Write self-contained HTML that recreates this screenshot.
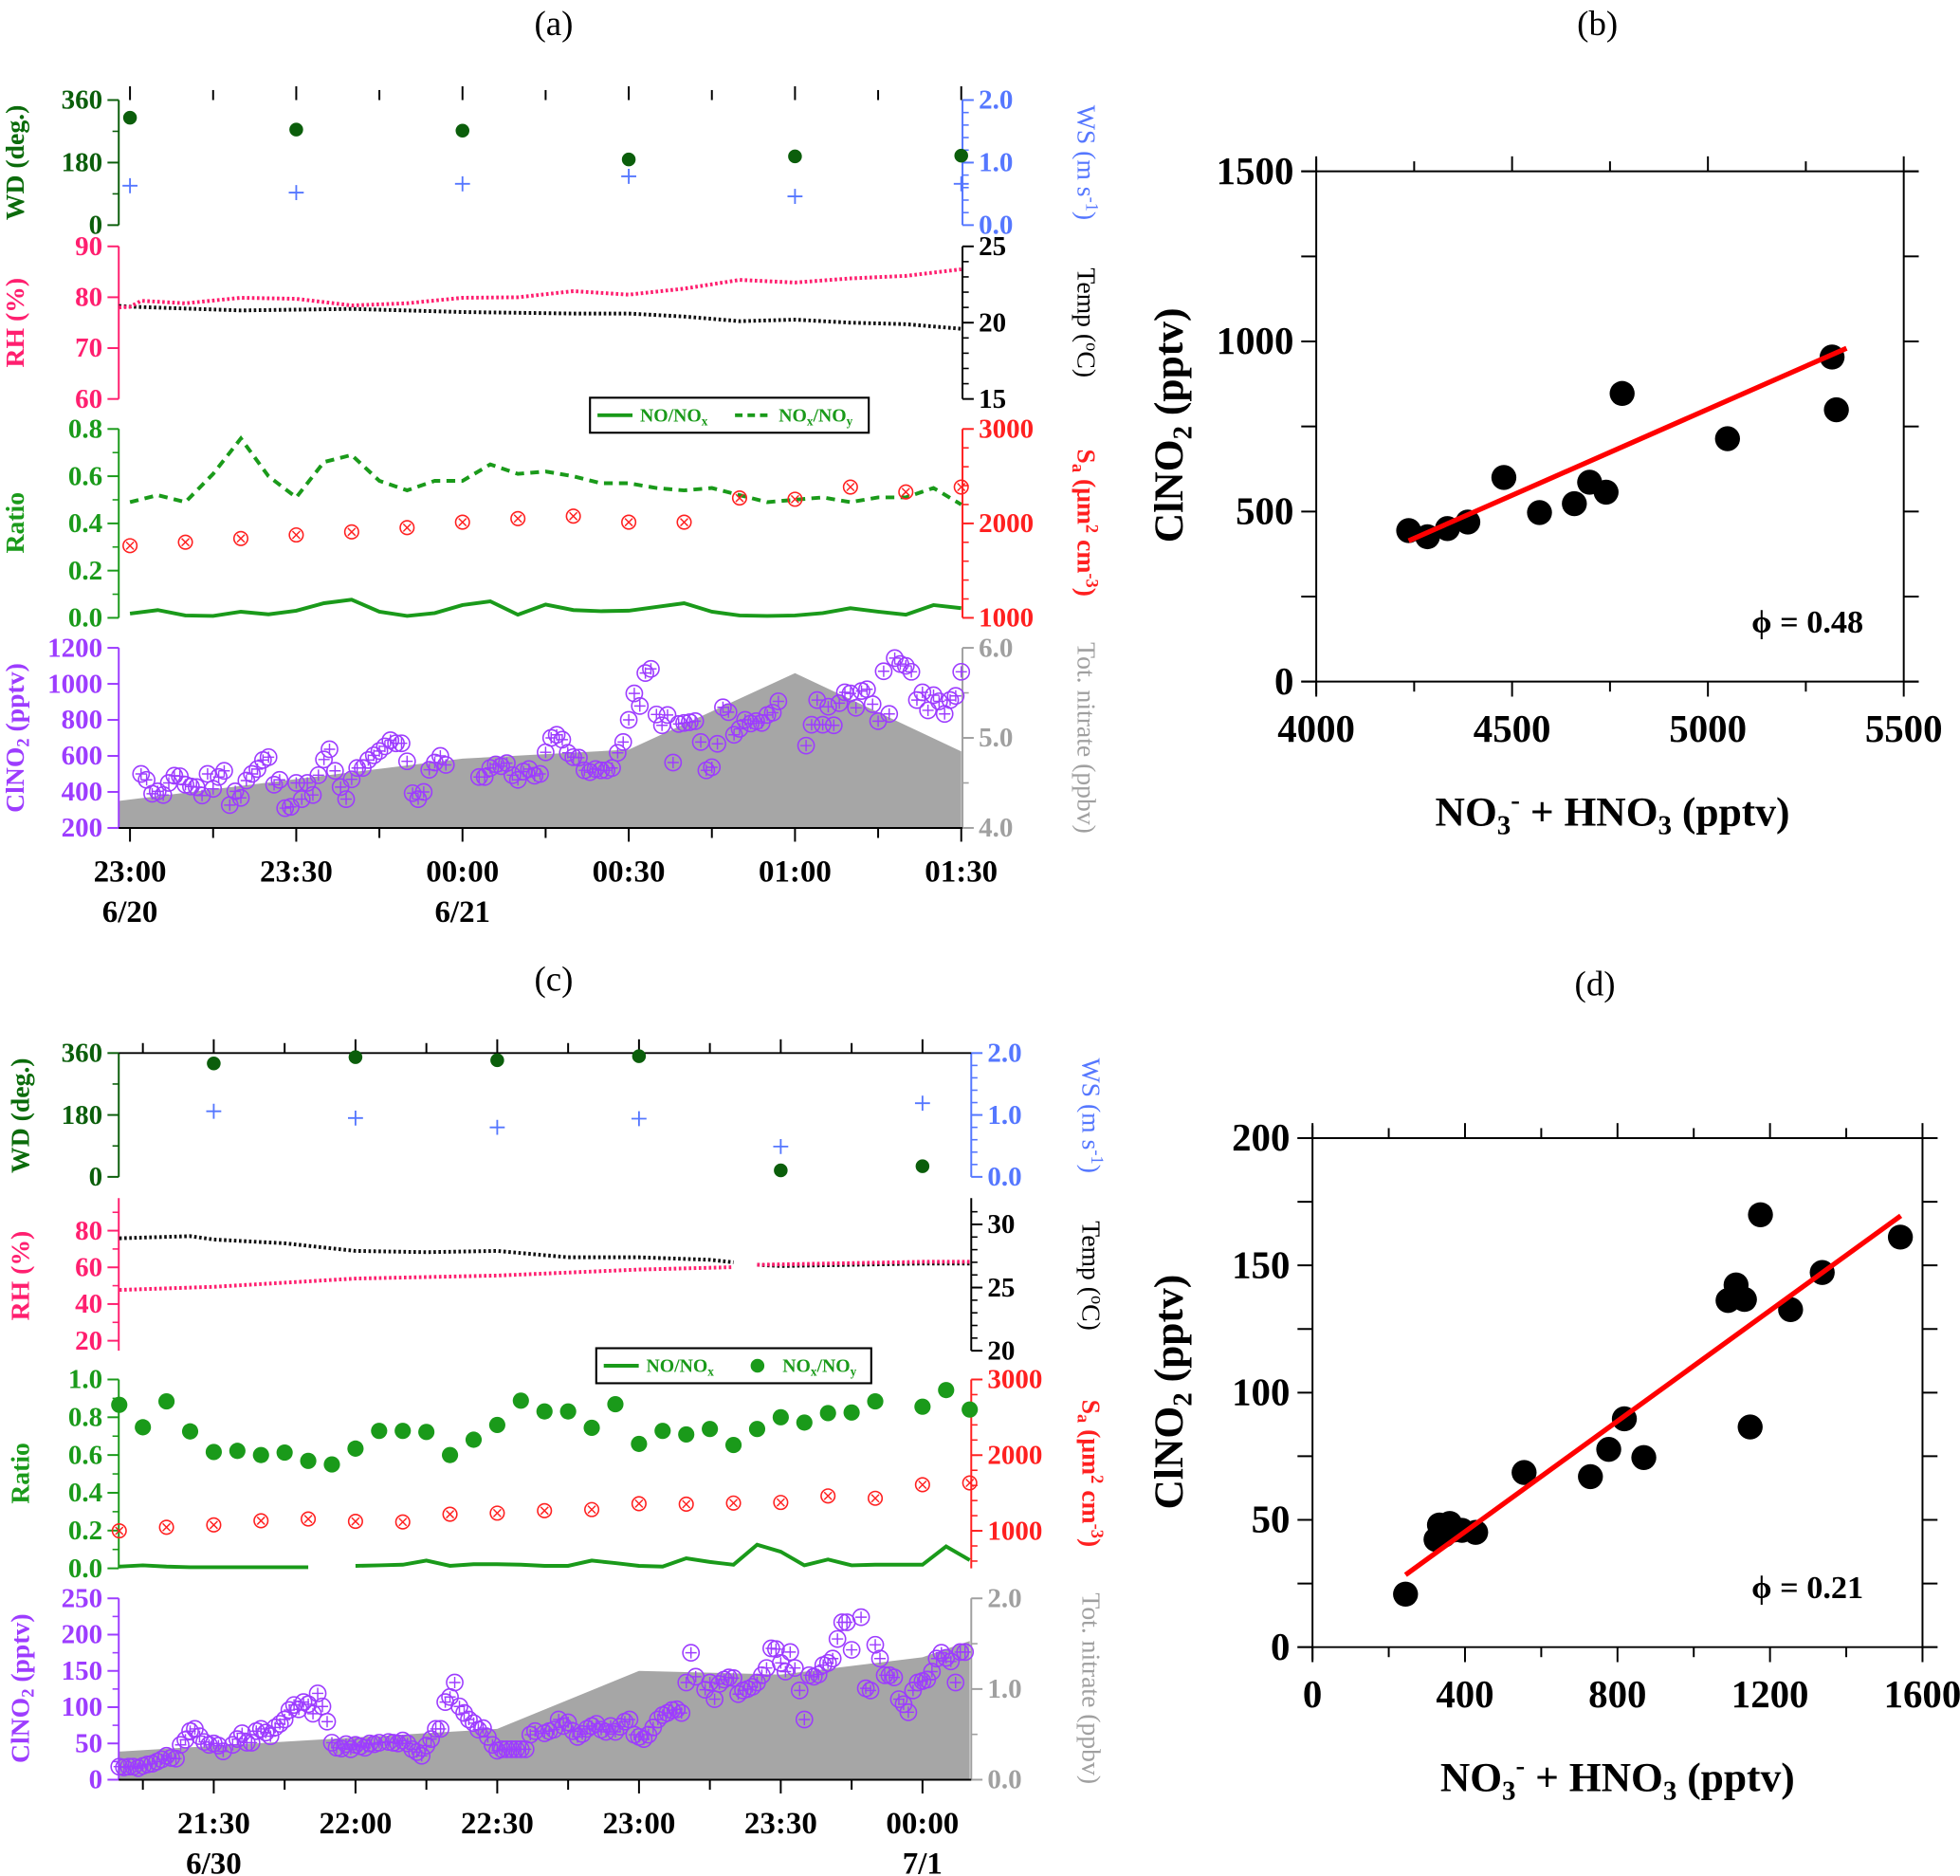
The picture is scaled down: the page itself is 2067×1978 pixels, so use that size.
<!DOCTYPE html>
<html><head><meta charset="utf-8"><style>
html,body{margin:0;padding:0;background:#fff;}
svg{display:block;font-family:"Liberation Serif",serif;}
</style></head><body>
<svg id="chart" xmlns="http://www.w3.org/2000/svg" width="2067" height="1978" viewBox="0 0 1568 1500" preserveAspectRatio="none">
<rect x="0" y="0" width="1568" height="1500" fill="#fff"/>
<g font-family="Liberation Serif, serif">
<text x="443" y="28" font-size="28" text-anchor="middle">(a)</text>
<text x="1278" y="28" font-size="28" text-anchor="middle">(b)</text>
<text x="443" y="792" font-size="28" text-anchor="middle">(c)</text>
<text x="1276" y="796" font-size="28" text-anchor="middle">(d)</text>

<text transform="translate(19,130) rotate(-90)" font-size="21" font-weight="bold" fill="#0b6b0b" text-anchor="middle">WD (deg.)</text>
<text transform="translate(19,258) rotate(-90)" font-size="21" font-weight="bold" fill="#ff1f6f" text-anchor="middle">RH (%)</text>
<text transform="translate(19,418) rotate(-90)" font-size="21" font-weight="bold" fill="#1a9a1a" text-anchor="middle">Ratio</text>
<text transform="translate(19,590) rotate(-90)" font-size="21" font-weight="bold" fill="#9d3cff" text-anchor="middle">ClNO<tspan font-size="14" dy="4">2</tspan><tspan dy="-4"> (pptv)</tspan></text>
<text transform="translate(862,130) rotate(90)" font-size="21" fill="#5577ff" text-anchor="middle">WS (m s<tspan font-size="14" dy="-7">-1</tspan><tspan dy="7">)</tspan></text>
<text transform="translate(862,258) rotate(90)" font-size="21" fill="#000" text-anchor="middle">Temp (<tspan font-size="14" dy="-7">o</tspan><tspan dy="7">C)</tspan></text>
<text transform="translate(862,418) rotate(90)" font-size="21" font-weight="bold" fill="#ff2020" text-anchor="middle">S<tspan font-size="14" dy="4">a</tspan><tspan dy="-4"> (μm</tspan><tspan font-size="14" dy="-7">2</tspan><tspan dy="7"> cm</tspan><tspan font-size="14" dy="-7">-3</tspan><tspan dy="7">)</tspan></text>
<text transform="translate(862,590) rotate(90)" font-size="21" fill="#a0a0a0" text-anchor="middle">Tot. nitrate (ppbv)</text>

<text transform="translate(23,892) rotate(-90)" font-size="21" font-weight="bold" fill="#0b6b0b" text-anchor="middle">WD (deg.)</text>
<text transform="translate(23,1020) rotate(-90)" font-size="21" font-weight="bold" fill="#ff1f6f" text-anchor="middle">RH (%)</text>
<text transform="translate(23,1178) rotate(-90)" font-size="21" font-weight="bold" fill="#1a9a1a" text-anchor="middle">Ratio</text>
<text transform="translate(23,1350) rotate(-90)" font-size="21" font-weight="bold" fill="#9d3cff" text-anchor="middle">ClNO<tspan font-size="14" dy="4">2</tspan><tspan dy="-4"> (pptv)</tspan></text>
<text transform="translate(866,892) rotate(90)" font-size="21" fill="#5577ff" text-anchor="middle">WS (m s<tspan font-size="14" dy="-7">-1</tspan><tspan dy="7">)</tspan></text>
<text transform="translate(866,1020) rotate(90)" font-size="21" fill="#000" text-anchor="middle">Temp (<tspan font-size="14" dy="-7">o</tspan><tspan dy="7">C)</tspan></text>
<text transform="translate(866,1178) rotate(90)" font-size="21" font-weight="bold" fill="#ff2020" text-anchor="middle">S<tspan font-size="14" dy="4">a</tspan><tspan dy="-4"> (μm</tspan><tspan font-size="14" dy="-7">2</tspan><tspan dy="7"> cm</tspan><tspan font-size="14" dy="-7">-3</tspan><tspan dy="7">)</tspan></text>
<text transform="translate(866,1350) rotate(90)" font-size="21" fill="#a0a0a0" text-anchor="middle">Tot. nitrate (ppbv)</text>

<text transform="translate(946,340) rotate(-90)" font-size="33" font-weight="bold" text-anchor="middle">ClNO<tspan font-size="22" dy="7">2</tspan><tspan dy="-7"> (pptv)</tspan></text>
<text x="1290" y="660" font-size="33" font-weight="bold" text-anchor="middle">NO<tspan font-size="22" dy="7">3</tspan><tspan font-size="22" dy="-20">-</tspan><tspan dy="13"> + HNO</tspan><tspan font-size="22" dy="7">3</tspan><tspan dy="-7"> (pptv)</tspan></text>
<text x="1446" y="506" font-size="26" font-weight="bold" text-anchor="middle">ϕ = 0.48</text>
<text transform="translate(946,1113) rotate(-90)" font-size="33" font-weight="bold" text-anchor="middle">ClNO<tspan font-size="22" dy="7">2</tspan><tspan dy="-7"> (pptv)</tspan></text>
<text x="1294" y="1432" font-size="33" font-weight="bold" text-anchor="middle">NO<tspan font-size="22" dy="7">3</tspan><tspan font-size="22" dy="-20">-</tspan><tspan dy="13"> + HNO</tspan><tspan font-size="22" dy="7">3</tspan><tspan dy="-7"> (pptv)</tspan></text>
<text x="1446" y="1278" font-size="26" font-weight="bold" text-anchor="middle">ϕ = 0.21</text>

<g>
<rect x="472" y="318" width="223" height="28" fill="#fff" stroke="#000" stroke-width="1.6"/>
<line x1="478" y1="332" x2="506" y2="332" stroke="#1a9a1a" stroke-width="3"/>
<text x="512" y="337" font-size="15" font-weight="bold" fill="#1a9a1a">NO/NO<tspan font-size="10" dy="3">x</tspan></text>
<line x1="588" y1="332" x2="618" y2="332" stroke="#1a9a1a" stroke-width="3" stroke-dasharray="6 4"/>
<text x="623" y="337" font-size="15" font-weight="bold" fill="#1a9a1a">NO<tspan font-size="10" dy="3">x</tspan><tspan dy="-3">/NO</tspan><tspan font-size="10" dy="3">y</tspan></text>
</g>
<g>
<rect x="477" y="1078" width="220" height="28" fill="#fff" stroke="#000" stroke-width="1.6"/>
<line x1="483" y1="1092" x2="511" y2="1092" stroke="#1a9a1a" stroke-width="3"/>
<text x="517" y="1097" font-size="15" font-weight="bold" fill="#1a9a1a">NO/NO<tspan font-size="10" dy="3">x</tspan></text>
<circle cx="606" cy="1092" r="5.5" fill="#1a9a1a"/>
<text x="626" y="1097" font-size="15" font-weight="bold" fill="#1a9a1a">NO<tspan font-size="10" dy="3">x</tspan><tspan dy="-3">/NO</tspan><tspan font-size="10" dy="3">y</tspan></text>
</g>
</g>
</svg>
<script>
// ===== Panel (a) data =====
const aWdTimes = [0, 30, 60, 90, 120, 150];
const aWdValues = [309, 275, 272, 189, 198, 200];
const aWsValues = [0.63, 0.52, 0.66, 0.78, 0.46, 0.66];
const aRhTimes = [-2, 0, 2, 10, 20, 30, 40, 50, 60, 70, 80, 90, 100, 110, 120, 130, 140, 150];
const aRhValues = [78, 78.1, 79.3, 78.8, 79.9, 79.7, 78.4, 78.8, 79.9, 80, 81.2, 80.5, 81.7, 83.4, 82.9, 83.7, 84.2, 85.5];
const aTempTimes = [-2, 0, 20, 40, 60, 80, 90, 100, 110, 120, 130, 140, 150];
const aTempValues = [21.1, 21.05, 20.8, 20.9, 20.7, 20.6, 20.6, 20.4, 20.1, 20.2, 20.0, 19.9, 19.6];
const aRatioTimes = [0,5,10,15,20,25,30,35,40,45,50,55,60,65,70,75,80,85,90,95,100,105,110,115,120,125,130,135,140,145,150];
const aNoNox = [0.018,0.033,0.01,0.008,0.026,0.015,0.03,0.062,0.077,0.026,0.008,0.02,0.054,0.07,0.013,0.056,0.033,0.028,0.03,0.046,0.062,0.026,0.01,0.008,0.01,0.02,0.041,0.026,0.013,0.054,0.041];
const aNoxNoy = [0.49,0.52,0.49,0.61,0.76,0.6,0.51,0.66,0.69,0.58,0.54,0.58,0.58,0.65,0.61,0.62,0.6,0.57,0.57,0.55,0.54,0.55,0.52,0.49,0.5,0.51,0.49,0.51,0.51,0.55,0.48];
const aSaTimes = [0,10,20,30,40,50,60,70,80,90,100,110,120,130,140,150];
const aSaValues = [1764,1801,1840,1878,1910,1955,2013,2051,2077,2013,2013,2269,2256,2385,2333,2385];
const aClTimes = [2,3,4,5,6,7,8,9,10,11,12,13,14,15,16,17,18,19,20,21,22,23,24,25,26,27,28,29,30,31,32,33,34,35,36,37,38,39,40,41,42,43,44,45,46,47,48,49,50,51,52,53,54,55,56,57,
63,64,65,66,67,68,69,70,71,72,73,74,75,76,77,78,79,80,81,82,83,84,85,86,87,88,89,90,91,92,93,94,95,96,97,98,99,100,101,102,103,104,105,106,107,108,109,110,111,112,113,114,115,116,117,
122,123,124,125,126,127,128,129,130,131,132,133,134,135,136,137,138,139,140,141,142,143,144,145,146,147,148,149,150];
const aClValues = [500,467,390,403,383,450,490,487,440,430,427,380,500,417,483,517,327,403,367,463,500,527,577,593,440,467,310,317,450,360,450,383,493,580,637,517,427,360,470,533,533,577,603,627,653,687,670,670,570,393,360,400,523,563,600,550,
483,483,533,553,543,560,493,467,513,527,490,500,620,700,717,690,617,593,590,520,510,527,520,520,533,617,677,800,947,877,1060,1083,830,770,827,563,777,783,787,793,677,520,537,667,870,843,717,750,800,780,793,783,827,840,903,
657,773,910,773,873,770,893,953,947,867,960,970,887,793,1070,833,1143,1110,1100,1067,910,953,853,937,903,833,910,933,1067];
const aNitTimes = [-2, 60, 90, 120, 150];
const aNitValues = [4.3, 4.77, 4.87, 5.72, 4.85];
const aTimeTicks = ['23:00','23:30','00:00','00:30','01:00','01:30'];
const aDateTicks = ['6/20','','6/21','','',''];

// ===== Panel (c) data (minutes since 21:00) =====
const cWdTimes = [30, 60, 90, 120, 150, 180];
const cWdValues = [330, 348, 339, 351, 19, 31];
const cWsValues = [1.06, 0.95, 0.80, 0.94, 0.49, 1.19];
const cTempTimes = [10,25,30,45,60,75,90,105,120,135,140,142,145,150,165,180,190];
const cTempValues = [28.9,29.07,28.8,28.5,27.9,27.8,27.9,27.4,27.4,27.2,27.0,null,26.8,26.7,26.8,26.9,26.9];
const cRhTimes = [10,30,60,90,120,140,142,145,180,190];
const cRhValues = [47.7,49.4,53.9,55.5,58.8,60.1,null,61.4,63,63];
const cRatioTimes = [10,15,20,25,30,35,40,45,50,55,60,65,70,75,80,85,90,95,100,105,110,115,120,125,130,135,140,145,150,155,160,165,170,175,180,185,190];
const cNoNox = [0.009,0.016,0.009,0.006,0.006,0.006,0.006,0.006,0.006,null,0.013,0.016,0.019,0.041,0.013,0.022,0.022,0.019,0.013,0.013,0.041,0.028,0.013,0.009,0.053,0.034,0.019,0.125,0.088,0.016,0.047,0.016,0.019,0.019,0.019,0.116,0.044];
const cNoxNoy = [0.866,0.747,0.884,0.725,0.616,0.622,0.6,0.613,0.569,0.55,0.634,0.728,0.728,0.722,0.6,0.681,0.759,0.888,0.831,0.831,0.744,0.869,0.659,0.728,0.709,0.738,0.653,0.738,0.8,0.772,0.822,0.825,0.884,null,0.856,0.944,0.841];
const cSaTimes = [10,20,30,40,50,60,70,80,90,100,110,120,130,140,150,160,170,180,190];
const cSaValues = [1000,1047,1078,1133,1156,1125,1117,1219,1234,1266,1281,1359,1352,1367,1375,1461,1430,1609,1633];
const cClTimes = [10,11,12,13,14,15,16,17,18,19,20,21,22,23,24,25,26,27,28,29,30,31,32,34,35,36,37,38,39,40,41,42,43,44,45,46,47,48,49,50,51,52,53,54,55,56,57,58,59,60,61,62,63,64,65,67,68,69,70,71,72,73,74,75,76,77,78,79,80,81,82,83,84,85,86,87,88,89,90,91,92,93,94,95,96,97,98,100,101,102,103,104,105,106,107,108,109,110,111,112,113,114,115,116,117,118,119,120,121,122,123,124,125,126,127,128,129,130,131,132,134,135,136,137,138,139,140,141,142,143,144,145,146,147,148,149,150,151,152,153,154,155,156,157,158,159,160,161,162,163,164,165,167,168,169,170,171,172,173,174,175,176,177,178,179,180,181,182,183,184,185,186,187,188,189];
const cClValues = [18,17,18,18,16,19,21,22,25,28,33,30,29,48,55,67,70,60,52,48,50,47,39,48,56,64,51,51,67,70,65,60,72,77,83,
96,103,97,107,104,91,119,101,80,
51,44,43,49,42,48,46,44,50,49,51,52,51,50,54,50,42,38,33,47,56,70,70,107,114,134,101,92,83,78,69,71,59,48,40,42,42,42,42,42,42,62,67,64,67,69,83,74,79,67,59,63,70,74,77,69,66,74,66,73,80,83,62,59,56,62,72,83,89,92,96,97,92,134,175,142,124,134,111,132,138,141,140,118,123,125,128,134,144,154,181,180,161,149,176,154,123,83,144,142,145,158,161,167,194,217,217,179,224,126,123,186,167,144,144,141,111,104,93,123,134,136,138,149,167,175,168,163,134,176,176];
const cNitTimes = [10, 90, 120, 150, 180, 190];
const cNitValues = [0.31, 0.56, 1.2, 1.16, 1.35, 1.53];
const cTimeTicks = ['21:30','22:00','22:30','23:00','23:30','00:00'];
const cDateTicks = ['6/30','','','','','7/1'];

// ===== Scatter (b) =====
const bX = [4236,4284,4335,4387,4479,4570,4659,4698,4740,4781,5050,5317,5328];
const bY = [444,426,450,469,600,497,523,586,557,847,714,954,799];
const bFitX = [4236, 5354];
const bFitY = [414, 980];
const bXTicks = [4000, 4500, 5000, 5500];
const bYTicks = [0, 500, 1000, 1500];
// ===== Scatter (d) =====
const dX = [244,324,333,360,392,428,345,370,555,729,777,818,869,1090,1111,1133,1148,1175,1254,1337,1542];
const dY = [20.8,42.3,48,48.6,45.9,45.1,44,46,68.6,67.0,77.7,89.7,74.5,136.2,142.3,136.6,86.5,169.9,132.6,147.2,161.1];
const dFitX = [244, 1543];
const dFitY = [28.4, 169.5];
const dXTicks = [0, 400, 800, 1200, 1600];
const dYTicks = [0, 50, 100, 150, 200];

const NS = 'http://www.w3.org/2000/svg';
const svg = document.getElementById('chart');
function mk(tag, attrs) {
  const e = document.createElementNS(NS, tag);
  for (const k in attrs) e.setAttribute(k, attrs[k]);
  svg.appendChild(e);
  return e;
}
function lin(d0, d1, r0, r1) { return v => r0 + (v - d0) / (d1 - d0) * (r1 - r0); }
const FONT = '"Liberation Serif", serif';

function yAxis(x, y0, y1, color, side, scale, major, minor, dec, name) {
  const ln = mk('line', {x1: x, x2: x, y1: y0, y2: y1, stroke: color, 'stroke-width': 1.5});
  
  
  const dir = side === 'left' ? -1 : 1;
  major.forEach(v => {
    const y = scale(v);
    const t = mk('line', {x1: x, x2: x + dir * 9, y1: y, y2: y, stroke: color, 'stroke-width': 1.5});
    
    
    const lb = mk('text', {x: x + dir * 13, y: y + 7, fill: color, 'font-size': 22, 'font-weight': 'bold', 'font-family': FONT, 'text-anchor': side === 'left' ? 'end' : 'start'});
    lb.textContent = v.toFixed(dec);
    
    
  });
  minor.forEach(v => {
    const y = scale(v);
    const t = mk('line', {x1: x, x2: x + dir * 5, y1: y, y2: y, stroke: color, 'stroke-width': 1.2});
    
    
  });
}
function range(a, b, s) { const r = []; for (let v = a; v <= b + 1e-9; v += s) r.push(+v.toFixed(4)); return r; }

function polyline(xs, ys, xf, yf, attrs, name) {
  let seg = [];
  const segs = [];
  xs.forEach((t, i) => {
    if (ys[i] === null) { if (seg.length) segs.push(seg); seg = []; }
    else seg.push(xf(t).toFixed(1) + ',' + yf(ys[i]).toFixed(1));
  });
  if (seg.length) segs.push(seg);
  segs.forEach(s => {
    const p = mk('polyline', Object.assign({points: s.join(' '), fill: 'none'}, attrs));
    
    
  });
}
function circX(cx, cy, r, color, name) {
  const c = mk('circle', {cx: cx, cy: cy, r: r, fill: 'none', stroke: color, 'stroke-width': 1.2});
  
  
  const d = r * 0.55;
  const p = mk('path', {d: `M${cx-d},${cy-d}L${cx+d},${cy+d}M${cx-d},${cy+d}L${cx+d},${cy-d}`, stroke: color, 'stroke-width': 1.1, fill: 'none'});
  
  
}
function circPlus(cx, cy, r, color, name) {
  const c = mk('circle', {cx: cx, cy: cy, r: r, fill: 'none', stroke: color, 'stroke-width': 1.2});
  
  
  const d = r * 0.7;
  const p = mk('path', {d: `M${cx-d},${cy}L${cx+d},${cy}M${cx},${cy-d}L${cx},${cy+d}`, stroke: color, 'stroke-width': 1.1, fill: 'none'});
  
  
}
function plus(cx, cy, r, color, name) {
  const p = mk('path', {d: `M${cx-r},${cy}L${cx+r},${cy}M${cx},${cy-r}L${cx},${cy+r}`, stroke: color, 'stroke-width': 1.4, fill: 'none'});
  
  
}

const GREEN = '#1a9a1a', DKGREEN = '#0b5e0b', BLUE = '#5577ff', PINK = '#ff1f6f', RED = '#ff2020', PURPLE = '#9d3cff', GRAY = '#a0a0a0';

function timeSeries(P) {
  const X = P.x;
  const pts = [];
  P.nitT.forEach((t, i) => pts.push(X(t).toFixed(1) + ',' + P.nit(P.nitV[i]).toFixed(1)));
  pts.push(X(P.nitT[P.nitT.length - 1]).toFixed(1) + ',' + P.clBase);
  pts.push(X(P.nitT[0]).toFixed(1) + ',' + P.clBase);
  const area = mk('polygon', {points: pts.join(' '), fill: '#a6a6a6', stroke: 'none'});
  
  

  P.axes.forEach(a => yAxis(a[0], a[1], a[2], a[3], a[4], a[5], a[6], a[7], a[8], a[9]));
  const bl = mk('line', {x1: P.xl, x2: P.xr, y1: P.clBase, y2: P.clBase, stroke: '#000', 'stroke-width': 1.5});
  
  
  if (P.topLine) {
    const tl = mk('line', {x1: P.xl, x2: P.xr, y1: P.top, y2: P.top, stroke: '#000', 'stroke-width': 1.5});
    
    
  }
  P.tickTimes.forEach(t => {
    const x = X(t);
    const isMaj = P.majorTimes.indexOf(t) >= 0;
    const len = isMaj ? 11 : 8;
    const tb = mk('line', {x1: x, x2: x, y1: P.clBase, y2: P.clBase + len, stroke: '#000', 'stroke-width': 1.5});
    
    
    const tt = mk('line', {x1: x, x2: x, y1: P.top, y2: P.top - len, stroke: '#000', 'stroke-width': 1.5});
    
    
  });
  P.majorTimes.forEach((t, i) => {
    const l = mk('text', {x: X(t), y: P.clBase + 43, 'font-size': 25, 'font-weight': 'bold', 'font-family': FONT, 'text-anchor': 'middle'});
    l.textContent = P.timeLabels[i];
    
    
    if (P.dateLabels[i]) {
      const d = mk('text', {x: X(t), y: P.clBase + 75, 'font-size': 25, 'font-weight': 'bold', 'font-family': FONT, 'text-anchor': 'middle'});
      d.textContent = P.dateLabels[i];
      
      
    }
  });
  P.wdT.forEach((t, i) => {
    const c = mk('circle', {cx: X(t), cy: P.wd(P.wdV[i]), r: 5.5, fill: DKGREEN});
    
    
    plus(X(t), P.ws(P.wsV[i]), 6, BLUE, P.id + '-ws-point');
  });
  polyline(P.tempT, P.tempV, X, P.temp, {stroke: '#111', 'stroke-width': 3, 'stroke-dasharray': '2 2'}, P.id + '-temp-line');
  polyline(P.rhT, P.rhV, X, P.rh, {stroke: PINK, 'stroke-width': 3, 'stroke-dasharray': '2 2'}, P.id + '-rh-line');
  polyline(P.ratT, P.noNox, X, P.rat, {stroke: GREEN, 'stroke-width': 3}, P.id + '-no-nox-line');
  if (P.noxDots) {
    P.ratT.forEach((t, i) => {
      if (P.noxNoy[i] === null) return;
      const c = mk('circle', {cx: X(t), cy: P.rat(P.noxNoy[i]), r: 6.5, fill: GREEN});
      
      
    });
  } else {
    polyline(P.ratT, P.noxNoy, X, P.rat, {stroke: GREEN, 'stroke-width': 3, 'stroke-dasharray': '7 5'}, P.id + '-nox-noy-line');
  }
  P.saT.forEach((t, i) => circX(X(t), P.sa(P.saV[i]), 5.5, RED, P.id + '-sa-point'));
  P.clT.forEach((t, i) => circPlus(X(t), P.cl(P.clV[i]), 6.5, PURPLE, P.id + '-clno2-point'));
}

const xA = lin(0, 150, 104, 769);
const A = {
  id: 'a', x: xA, xl: 95, xr: 770, top: 80, topLine: false, clBase: 662,
  wd: lin(0, 360, 180, 80), ws: lin(0, 2, 180, 80),
  rh: lin(60, 90, 319, 197), temp: lin(15, 25, 319, 197),
  rat: lin(0, 0.8, 494, 343), sa: lin(1000, 3000, 494, 343),
  cl: lin(200, 1200, 662, 518), nit: lin(4, 6, 662, 518),
};
A.axes = [
  [95, 80, 180, DKGREEN, 'left', A.wd, [0, 180, 360], [90, 270], 0, 'a-wd'],
  [770, 80, 180, BLUE, 'right', A.ws, [0, 1, 2], range(0.2, 1.8, 0.2), 1, 'a-ws'],
  [95, 197, 319, PINK, 'left', A.rh, [60, 70, 80, 90], [], 0, 'a-rh'],
  [770, 197, 319, '#000', 'right', A.temp, [15, 20, 25], range(16, 24, 1), 0, 'a-temp'],
  [95, 343, 494, GREEN, 'left', A.rat, [0, 0.2, 0.4, 0.6, 0.8], [0.1, 0.3, 0.5, 0.7], 1, 'a-ratio'],
  [770, 343, 494, RED, 'right', A.sa, [1000, 2000, 3000], range(1200, 2800, 200), 0, 'a-sa'],
  [95, 518, 662, PURPLE, 'left', A.cl, [200, 400, 600, 800, 1000, 1200], [], 0, 'a-clno2'],
  [770, 518, 662, GRAY, 'right', A.nit, [4, 5, 6], [4.5, 5.5], 1, 'a-nitrate'],
];
Object.assign(A, {
  tickTimes: range(0, 150, 15), majorTimes: [0, 30, 60, 90, 120, 150], timeLabels: aTimeTicks, dateLabels: aDateTicks,
  wdT: aWdTimes, wdV: aWdValues, wsV: aWsValues, tempT: aTempTimes, tempV: aTempValues, rhT: aRhTimes, rhV: aRhValues,
  ratT: aRatioTimes, noNox: aNoNox, noxNoy: aNoxNoy, noxDots: false, saT: aSaTimes, saV: aSaValues,
  clT: aClTimes, clV: aClValues, nitT: aNitTimes, nitV: aNitValues
});
timeSeries(A);

const xC = lin(30, 180, 171, 738);
const C = {
  id: 'c', x: xC, xl: 95, xr: 777, top: 842, topLine: true, clBase: 1423,
  wd: lin(0, 360, 941, 842), ws: lin(0, 2, 941, 842),
  rh: lin(20, 80, 1072, 984), temp: lin(20, 30, 1080, 979),
  rat: lin(0, 1, 1254, 1103), sa: lin(1000, 3000, 1224, 1103),
  cl: lin(0, 250, 1423, 1278), nit: lin(0, 2, 1423, 1278),
};
C.axes = [
  [95, 842, 941, DKGREEN, 'left', C.wd, [0, 180, 360], [90, 270], 0, 'c-wd'],
  [777, 842, 941, BLUE, 'right', C.ws, [0, 1, 2], range(0.2, 1.8, 0.2), 1, 'c-ws'],
  [95, 958, 1080, PINK, 'left', C.rh, [20, 40, 60, 80], [30, 50, 70, 90], 0, 'c-rh'],
  [777, 958, 1080, '#000', 'right', C.temp, [20, 25, 30], range(21, 31, 1), 0, 'c-temp'],
  [95, 1103, 1254, GREEN, 'left', C.rat, [0, 0.2, 0.4, 0.6, 0.8, 1.0], [0.1, 0.3, 0.5, 0.7, 0.9], 1, 'c-ratio'],
  [777, 1103, 1254, RED, 'right', C.sa, [1000, 2000, 3000], range(600, 2800, 200), 0, 'c-sa'],
  [95, 1278, 1423, PURPLE, 'left', C.cl, [0, 50, 100, 150, 200, 250], [25, 75, 125, 175, 225], 0, 'c-clno2'],
  [777, 1278, 1423, GRAY, 'right', C.nit, [0, 1, 2], [0.5, 1.5], 1, 'c-nitrate'],
];
Object.assign(C, {
  tickTimes: range(15, 180, 15), majorTimes: [30, 60, 90, 120, 150, 180], timeLabels: cTimeTicks, dateLabels: cDateTicks,
  wdT: cWdTimes, wdV: cWdValues, wsV: cWsValues, tempT: cTempTimes, tempV: cTempValues, rhT: cRhTimes, rhV: cRhValues,
  ratT: cRatioTimes, noNox: cNoNox, noxNoy: cNoxNoy, noxDots: true, saT: cSaTimes, saV: cSaValues,
  clT: cClTimes, clV: cClValues, nitT: cNitTimes, nitV: cNitValues
});
timeSeries(C);

function scatter(id, xs, ys, fx, fy, xt, yt, X, Y, L, R, T, B) {
  const frame = [[L - 12, T, R + 12, T], [L - 12, B, R + 12, B], [L, T - 10, L, B + 10], [R, T, R, B]];
  frame.forEach(f => {
    const l = mk('line', {x1: f[0], y1: f[1], x2: f[2], y2: f[3], stroke: '#000', 'stroke-width': 1.5});
    
    
  });
  const xstep = (xt[1] - xt[0]) / 2;
  for (let v = xt[0]; v <= xt[xt.length - 1]; v += xstep) {
    const x = X(v);
    const maj = xt.indexOf(v) >= 0;
    const len = maj ? 12 : 8;
    const t1 = mk('line', {x1: x, x2: x, y1: B, y2: B + len, stroke: '#000', 'stroke-width': 1.5});
    
    
    const t2 = mk('line', {x1: x, x2: x, y1: T, y2: T - len, stroke: '#000', 'stroke-width': 1.5});
    
    
  }
  xt.forEach(v => {
    const l = mk('text', {x: X(v), y: B + 48, 'font-size': 31, 'font-weight': 'bold', 'font-family': FONT, 'text-anchor': 'middle'});
    l.textContent = String(v);
    
    
  });
  const ystep = (yt[1] - yt[0]) / 2;
  for (let v = yt[0]; v <= yt[yt.length - 1]; v += ystep) {
    const y = Y(v);
    const t1 = mk('line', {x1: L, x2: L - 12, y1: y, y2: y, stroke: '#000', 'stroke-width': 1.5});
    
    
    const t2 = mk('line', {x1: R, x2: R + 12, y1: y, y2: y, stroke: '#000', 'stroke-width': 1.5});
    
    
  }
  yt.forEach(v => {
    const l = mk('text', {x: L - 18, y: Y(v) + 10, 'font-size': 31, 'font-weight': 'bold', 'font-family': FONT, 'text-anchor': 'end'});
    l.textContent = String(v);
    
    
  });
  xs.forEach((v, i) => {
    const c = mk('circle', {cx: X(v), cy: Y(ys[i]), r: 10, fill: '#000'});
    
    
  });
  const fl = mk('line', {x1: X(fx[0]), y1: Y(fy[0]), x2: X(fx[1]), y2: Y(fy[1]), stroke: '#ff0000', 'stroke-width': 4});
  
  
}
scatter('b', bX, bY, bFitX, bFitY, bXTicks, bYTicks, lin(4000, 5500, 1053, 1523), lin(0, 1500, 545, 137), 1053, 1523, 137, 545);
scatter('d', dX, dY, dFitX, dFitY, dXTicks, dYTicks, lin(0, 1600, 1050, 1538), lin(0, 200, 1317, 910), 1050, 1538, 910, 1317);
</script>
</body></html>
